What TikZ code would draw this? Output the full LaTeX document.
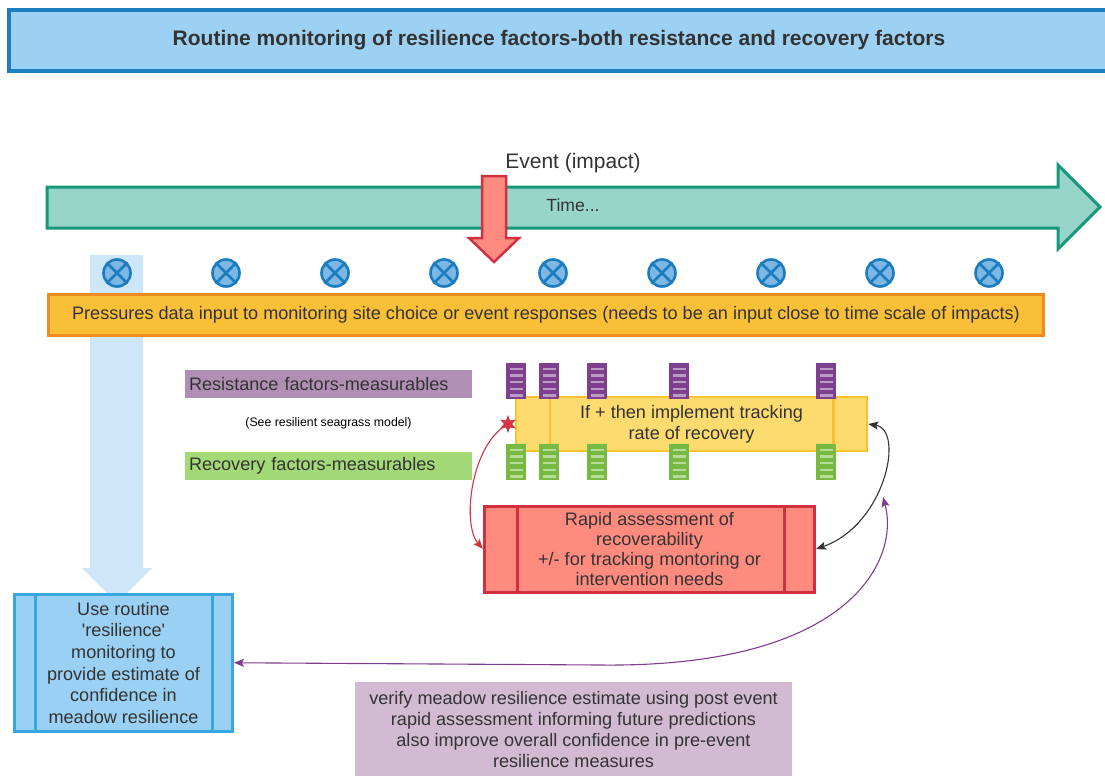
\documentclass[tikz,border=0pt]{standalone}
\usepackage{fontspec}
\setmainfont{Liberation Sans}
\usetikzlibrary{arrows.meta,shapes.geometric,calc}

\definecolor{txt}{HTML}{333333}
\definecolor{titlefill}{HTML}{9CD1F3}
\definecolor{titleline}{HTML}{1D7EC0}
\definecolor{timefill}{HTML}{98D5C9}
\definecolor{timeline}{HTML}{17987B}
\definecolor{eventfill}{HTML}{FF8B80}
\definecolor{eventline}{HTML}{D1303E}
\definecolor{sitefill}{HTML}{7DB7E3}
\definecolor{siteline}{HTML}{1B7CC0}
\definecolor{colfill}{HTML}{CDE7F8}
\definecolor{pressfill}{HTML}{F9BF36}
\definecolor{pressline}{HTML}{EF8C20}
\definecolor{resfill}{HTML}{B18FB4}
\definecolor{recfill}{HTML}{A3D977}
\definecolor{trackfill}{HTML}{FDDB6E}
\definecolor{trackline}{HTML}{F9C230}
\definecolor{purplebar}{HTML}{7E3F8E}
\definecolor{purplestripe}{HTML}{B89CC2}
\definecolor{greenbar}{HTML}{78B943}
\definecolor{greenstripe}{HTML}{B7DC98}
\definecolor{rapidfill}{HTML}{FF8B7F}
\definecolor{rapidline}{HTML}{D1303E}
\definecolor{usefill}{HTML}{9AD0F3}
\definecolor{useline}{HTML}{3AA6DF}
\definecolor{notefill}{HTML}{D3BAD3}
\definecolor{linkpurple}{HTML}{7E3C8C}
\definecolor{linkred}{HTML}{D23541}
\definecolor{linkdark}{HTML}{333333}

% a measurement "rack": solid bar with five light stripes
\newcommand\meterbar[4]{%
  \fill[#3] (#1,#2) rectangle ++(20,36);
  \foreach \k in {0,...,4}
    \fill[#4] (#1+3.5,#2+4.5+6.67*\k) rectangle ++(13,2.5);
}

\tikzset{
  txtnode/.style={text=txt, font=\fontsize{18.1}{21}\selectfont, inner sep=0pt},
  labelbox/.style={txtnode, minimum width=287, minimum height=28,
    text width=279, align=left, inner xsep=4},
  panel/.style={txtnode, line width=3, align=center},
  site/.style={circle, fill=sitefill, draw=siteline, line width=2.6,
    minimum size=27, inner sep=0pt},
  link/.style={line width=1.1, {Stealth[length=10,width=8,inset=2]}-{Stealth[length=10,width=8,inset=2]}},
  onelink/.style={line width=1.1, -{Stealth[length=10,width=8,inset=2]}}
}

\begin{document}
\begin{tikzpicture}[x=1pt,y=-1pt]
\useasboundingbox (0,0) rectangle (1105,776);

% pale column carrying routine monitoring down to the estimate
\fill[colfill] (90,255) -- (143,255) -- (143,568) -- (152,568) -- (117,603)
  -- (82,568) -- (90,568) -- cycle;

% title banner
\node[txtnode, fill=titlefill, draw=titleline, line width=4,
  minimum width=1100, minimum height=61,
  font=\fontsize{21}{24}\selectfont\bfseries] (title) at (559,40.5)
  {Routine monitoring of resilience factors-both resistance and recovery factors};

% time arrow
\filldraw[fill=timefill, draw=timeline, line width=3]
  (47,187) -- (1058,187) -- (1058,165) -- (1100,207) -- (1058,249)
  -- (1058,228) -- (47,228) -- cycle;
\node[txtnode, font=\fontsize{17.6}{21}\selectfont] (time) at (573,205) {Time...};

% event arrow
\node[txtnode, font=\fontsize{21}{24}\selectfont] (event) at (573,163) {Event (impact)};
\filldraw[fill=eventfill, draw=eventline, line width=2.5]
  (482,176) -- (506,176) -- (506,238) -- (519,238) -- (494,262)
  -- (469,238) -- (482,238) -- cycle;

% monitoring sites
\foreach \i in {0,...,8} {
  \node[site] (s\i) at (117+109*\i,273) {};
  \draw[siteline, line width=2.6] (s\i.north east) -- (s\i.south west)
    (s\i.north west) -- (s\i.south east);
}

% pressures bar
\node[txtnode, fill=pressfill, draw=pressline, line width=3,
  minimum width=995, minimum height=41] (press) at (546,315)
  {Pressures data input to monitoring site choice or event responses (needs to be an input close to time scale of impacts)};

% factor labels
\node[labelbox, fill=resfill] (resist) at (328.5,384) {Resistance factors-measurables};
\node[txtnode, font=\fontsize{12.3}{14}\selectfont, text=black] (model) at (328.5,423)
  {(See resilient seagrass model)};
\node[labelbox, fill=recfill] (recov) at (328.5,466) {Recovery factors-measurables};

% tracking box
\node[panel, fill=trackfill, draw=trackline, line width=2.5,
  minimum width=351, minimum height=54] (track) at (691.5,424)
  {If + then implement tracking\\rate of recovery};
\draw[trackline, line width=2.5]
  ($(track.north west)+(35,0)$) -- ($(track.south west)+(35,0)$)
  ($(track.north east)+(-35,0)$) -- ($(track.south east)+(-35,0)$);

% resistance and recovery measurements
\foreach \x in {506,539,587,669,816} {
  \meterbar{\x}{363}{purplebar}{purplestripe}
  \meterbar{\x}{444}{greenbar}{greenstripe}
}

% rapid assessment box
\node[panel, fill=rapidfill, draw=rapidline, minimum width=330, minimum height=86,
  font=\fontsize{18.1}{20}\selectfont]
  (rapid) at (649.5,549)
  {Rapid assessment of\\recoverability\\+/- for tracking montoring or\\intervention needs};
\draw[rapidline, line width=3]
  ($(rapid.north west)+(34,0)$) -- ($(rapid.south west)+(34,0)$)
  ($(rapid.north east)+(-32,0)$) -- ($(rapid.south east)+(-32,0)$);

% resilience estimate box
\node[panel, fill=usefill, draw=useline, minimum width=218, minimum height=137.5,
  font=\fontsize{18.1}{21.6}\selectfont]
  (use) at (123.5,662.75)
  {Use routine\\\textquotesingle resilience\textquotesingle\\monitoring to\\provide estimate of\\confidence in\\meadow resilience};
\draw[useline, line width=3]
  ($(use.north west)+(22,0)$) -- ($(use.south west)+(22,0)$)
  ($(use.north east)+(-22,0)$) -- ($(use.south east)+(-22,0)$);

% verification note
\node[txtnode, fill=notefill, minimum width=437, minimum height=94, anchor=north,
  align=center] (note) at (573.5,682)
  {verify meadow resilience estimate using post event\\rapid assessment informing future predictions\\also improve overall confidence in pre-event\\resilience measures};

% impact marker and connectors
\node[star, star points=6, star point ratio=2.2, fill=linkred, inner sep=0pt,
  minimum size=18] (impact) at (508,424) {};
\draw[onelink, linkred] (impact.center) .. controls (470,445) and (462,525) .. (rapid.west);
\draw[link, linkdark] (track.east) .. controls (905,430) and (885,525) .. (rapid.east);
\coordinate (verifytop) at (883,497);
\draw[link, linkpurple] (use.east) -- (600,665)
  .. controls (850,668) and (900,560) .. (verifytop);
\end{tikzpicture}
\end{document}
